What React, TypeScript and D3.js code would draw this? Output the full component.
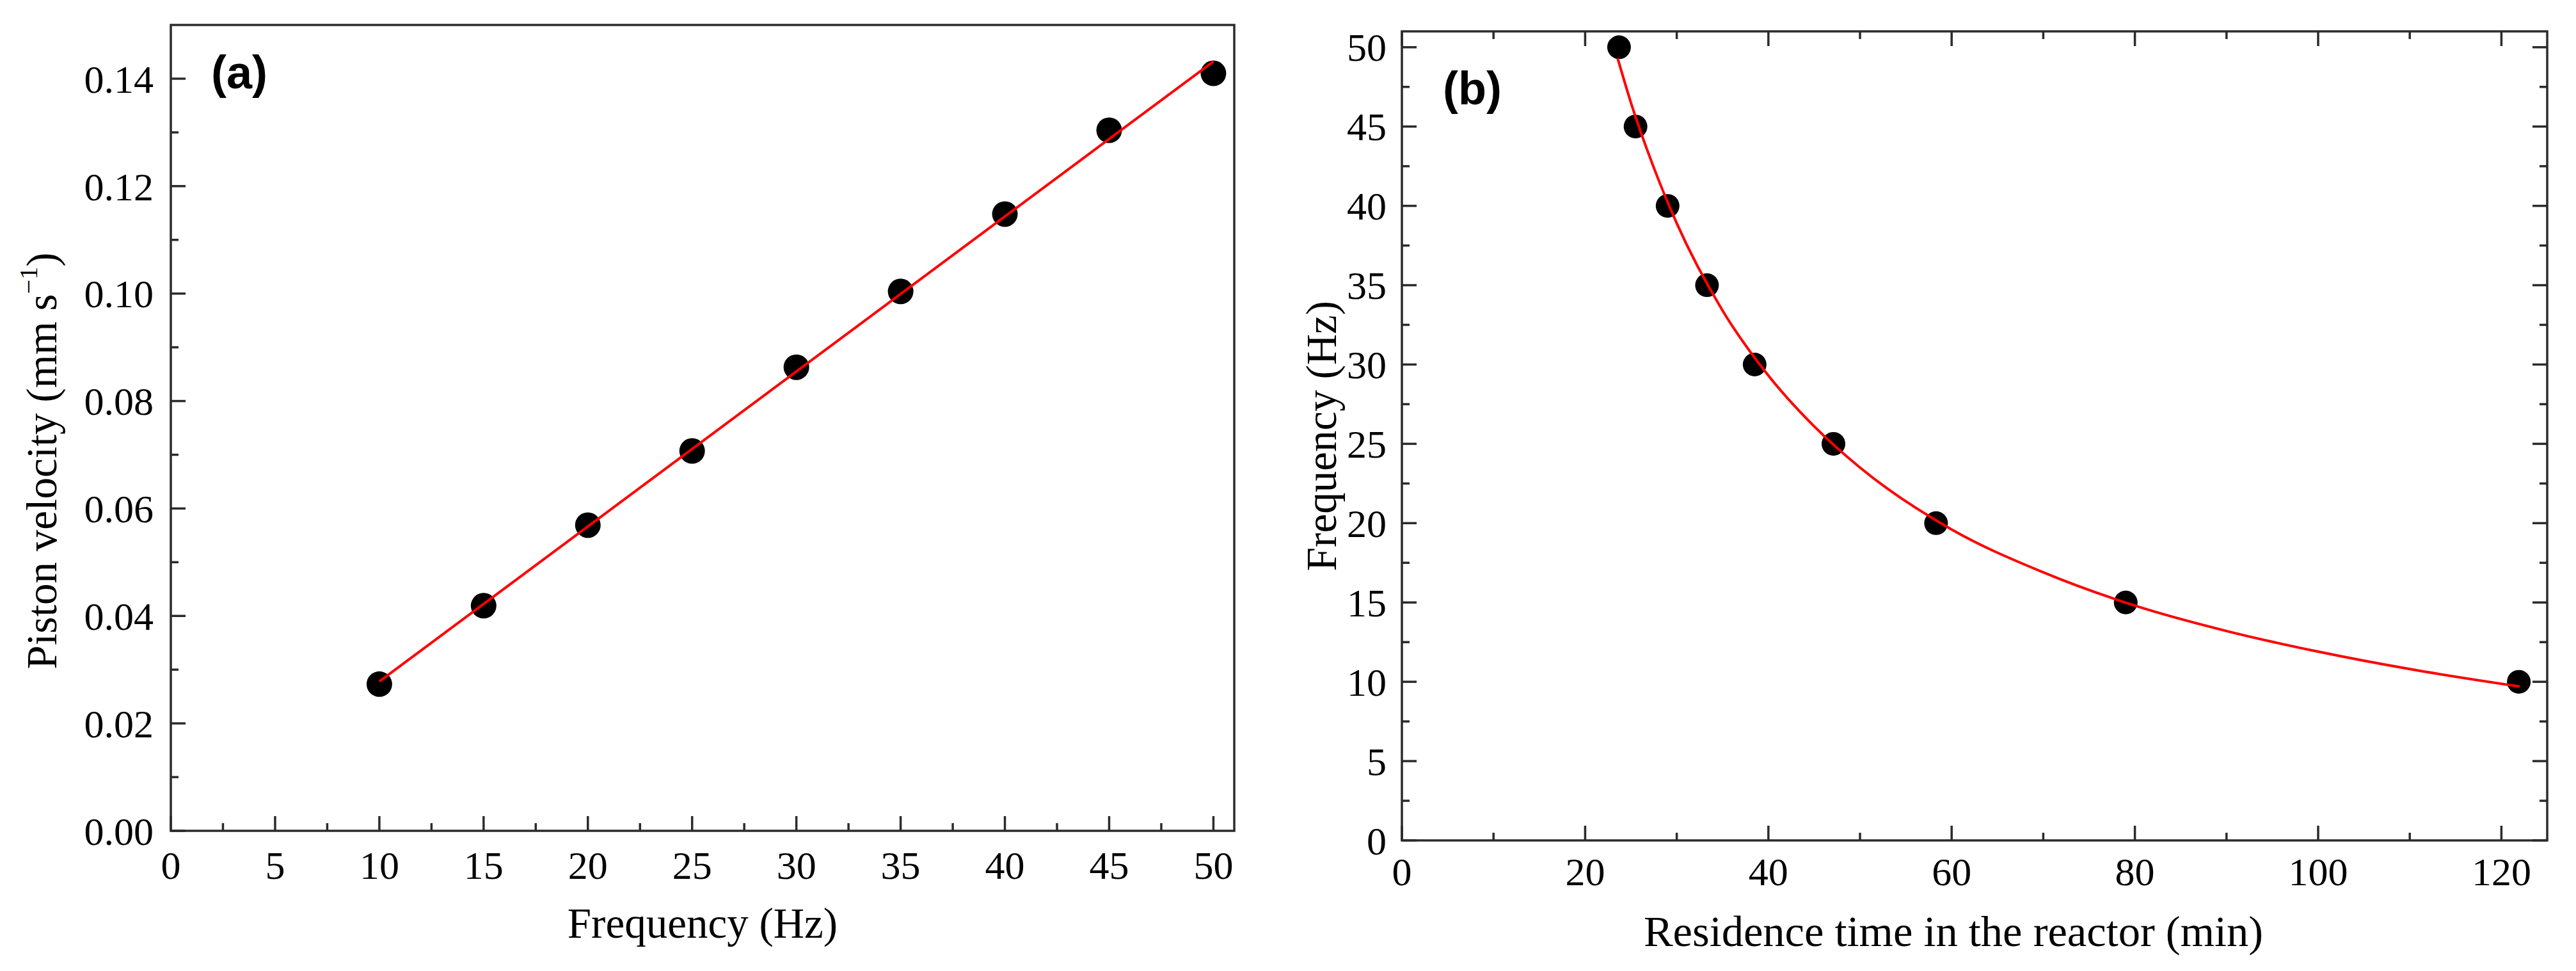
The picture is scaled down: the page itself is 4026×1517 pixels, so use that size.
import React from "react";
import * as d3 from "d3";

// ---------- Panel (a) data ----------
const freqA = [10, 15, 20, 25, 30, 35, 40, 45, 50];
const velocityA = [0.0273, 0.0419, 0.0569, 0.0707, 0.0863, 0.1004, 0.1148, 0.1304, 0.141];
const fitAX = [10, 50];
const fitAY = [0.0278, 0.1432];
const xTicksA = [0, 5, 10, 15, 20, 25, 30, 35, 40, 45, 50];
const yTicksA = [0, 0.02, 0.04, 0.06, 0.08, 0.1, 0.12, 0.14];

// ---------- Panel (b) data ----------
const residenceB = [23.7, 25.5, 29.0, 33.3, 38.5, 47.1, 58.3, 79.0, 121.9];
const freqB = [50, 45, 40, 35, 30, 25, 20, 15, 10];
const fitBX = [23.55, 25, 27.5, 30, 35, 40, 45, 50, 60, 70, 80, 90, 100, 110, 122];
const fitBY = [49.3, 46.5, 42.4, 38.9, 33.4, 29.3, 26.1, 23.5, 19.6, 16.9, 14.8, 13.2, 11.9, 10.8, 9.7];
const xTicksB = [0, 20, 40, 60, 80, 100, 120];
const yTicksB = [0, 5, 10, 15, 20, 25, 30, 35, 40, 45, 50];

const W = 4026;
const H = 1517;
const SERIF = "'Liberation Serif', 'Times New Roman', serif";
const SANS = "'Liberation Sans', Arial, sans-serif";
const AXIS = "#2b2b2b";
const AXW = 3.5;
const MAJ = 23;
const MIN = 12;
const TICKFS = 62;
const TITLEFS = 67;

export default function App() {
  // Panel a scales
  const xA = d3.scaleLinear().domain([0, 51]).range([267, 1929]);
  const yA = d3.scaleLinear().domain([0, 0.15]).range([1298, 39]);
  // Panel b scales
  const xB = d3.scaleLinear().domain([0, 125]).range([2191, 3981]);
  const yB = d3.scaleLinear().domain([0, 51]).range([1313, 49]);

  const minorXA = d3.range(2.5, 51, 5);
  const minorYA = d3.range(0.01, 0.15, 0.02);
  const minorXB = d3.range(10, 125, 20);
  const minorYB = d3.range(2.5, 51, 5);

  const lineA = d3
    .line<number>()
    .x((_, i) => xA(fitAX[i]))
    .y((d) => yA(d));
  const lineB = d3
    .line<number>()
    .x((_, i) => xB(fitBX[i]))
    .y((d) => yB(d))
    .curve(d3.curveMonotoneX);

  const fmtA = d3.format(".2f");

  return (
    <svg
      width={W}
      height={H}
      viewBox={`0 0 ${W} ${H}`}
      style={{ position: "absolute", left: 0, top: 0, background: "#fff" }}
    >
      <rect x={0} y={0} width={W} height={H} fill="#fff" />

      {/* ================= Panel (a) ================= */}
      <g>
        {freqA.map((f, i) => (
          <circle key={"pa" + i} cx={xA(f)} cy={yA(velocityA[i])} r={20} fill="#000" />
        ))}
        <path d={lineA(fitAY) || ""} fill="none" stroke="#ff0000" strokeWidth={4} />

        <rect
          x={xA(0)}
          y={yA(0.15)}
          width={xA(51) - xA(0)}
          height={yA(0) - yA(0.15)}
          fill="none"
          stroke={AXIS}
          strokeWidth={AXW}
        />
        {xTicksA.map((t) => (
          <g key={"xta" + t}>
            <line x1={xA(t)} x2={xA(t)} y1={yA(0)} y2={yA(0) - MAJ} stroke={AXIS} strokeWidth={AXW} />
            <text x={xA(t)} y={1373} textAnchor="middle" fontFamily={SERIF} fontSize={TICKFS} fill="#000">
              {t}
            </text>
          </g>
        ))}
        {minorXA.map((t) => (
          <line key={"mxa" + t} x1={xA(t)} x2={xA(t)} y1={yA(0)} y2={yA(0) - MIN} stroke={AXIS} strokeWidth={AXW} />
        ))}
        {yTicksA.map((t) => (
          <g key={"yta" + t}>
            <line x1={xA(0)} x2={xA(0) + MAJ} y1={yA(t)} y2={yA(t)} stroke={AXIS} strokeWidth={AXW} />
            <text
              x={xA(0) - 27}
              y={yA(t)}
              dy="0.35em"
              textAnchor="end"
              fontFamily={SERIF}
              fontSize={TICKFS}
              fill="#000"
            >
              {fmtA(t)}
            </text>
          </g>
        ))}
        {minorYA.map((t) => (
          <line key={"mya" + t} x1={xA(0)} x2={xA(0) + MIN} y1={yA(t)} y2={yA(t)} stroke={AXIS} strokeWidth={AXW} />
        ))}
        <text
          x={(xA(0) + xA(51)) / 2}
          y={1465}
          textAnchor="middle"
          fontFamily={SERIF}
          fontSize={TITLEFS}
          fill="#000"
        >
          Frequency (Hz)
        </text>
        <text
          transform={`translate(88, 720) rotate(-90)`}
          textAnchor="middle"
          fontFamily={SERIF}
          fontSize={TITLEFS}
          fill="#000"
        >
          Piston velocity (mm s
          <tspan fontSize={40} dy={-30}>
            −1
          </tspan>
          <tspan dy={30}>)</tspan>
        </text>
        <text x={330} y={138} fontFamily={SANS} fontWeight="bold" fontSize={72} fill="#000">
          (a)
        </text>
      </g>

      {/* ================= Panel (b) ================= */}
      <g>
        {residenceB.map((t, i) => (
          <circle key={"pb" + i} cx={xB(t)} cy={yB(freqB[i])} r={18.5} fill="#000" />
        ))}
        <path d={lineB(fitBY) || ""} fill="none" stroke="#ff0000" strokeWidth={4} />

        <rect
          x={xB(0)}
          y={yB(51)}
          width={xB(125) - xB(0)}
          height={yB(0) - yB(51)}
          fill="none"
          stroke={AXIS}
          strokeWidth={AXW}
        />
        {xTicksB.map((t) => (
          <g key={"xtb" + t}>
            <line x1={xB(t)} x2={xB(t)} y1={yB(0)} y2={yB(0) - MAJ} stroke={AXIS} strokeWidth={AXW} />
            <line x1={xB(t)} x2={xB(t)} y1={yB(51)} y2={yB(51) + MAJ} stroke={AXIS} strokeWidth={AXW} />
            <text x={xB(t)} y={1383} textAnchor="middle" fontFamily={SERIF} fontSize={TICKFS} fill="#000">
              {t}
            </text>
          </g>
        ))}
        {minorXB.map((t) => (
          <g key={"mxb" + t}>
            <line x1={xB(t)} x2={xB(t)} y1={yB(0)} y2={yB(0) - MIN} stroke={AXIS} strokeWidth={AXW} />
            <line x1={xB(t)} x2={xB(t)} y1={yB(51)} y2={yB(51) + MIN} stroke={AXIS} strokeWidth={AXW} />
          </g>
        ))}
        {yTicksB.map((t) => (
          <g key={"ytb" + t}>
            <line x1={xB(0)} x2={xB(0) + MAJ} y1={yB(t)} y2={yB(t)} stroke={AXIS} strokeWidth={AXW} />
            <line x1={xB(125)} x2={xB(125) - MAJ} y1={yB(t)} y2={yB(t)} stroke={AXIS} strokeWidth={AXW} />
            <text
              x={xB(0) - 24}
              y={yB(t)}
              dy="0.35em"
              textAnchor="end"
              fontFamily={SERIF}
              fontSize={TICKFS}
              fill="#000"
            >
              {t}
            </text>
          </g>
        ))}
        {minorYB.map((t) => (
          <g key={"myb" + t}>
            <line x1={xB(0)} x2={xB(0) + MIN} y1={yB(t)} y2={yB(t)} stroke={AXIS} strokeWidth={AXW} />
            <line x1={xB(125)} x2={xB(125) - MIN} y1={yB(t)} y2={yB(t)} stroke={AXIS} strokeWidth={AXW} />
          </g>
        ))}
        <text
          x={(xB(0) + xB(125)) / 2 - 33}
          y={1478}
          textAnchor="middle"
          fontFamily={SERIF}
          fontSize={68.5}
          fill="#000"
        >
          Residence time in the reactor (min)
        </text>
        <text
          transform={`translate(2088, ${(yB(0) + yB(51)) / 2}) rotate(-90)`}
          textAnchor="middle"
          fontFamily={SERIF}
          fontSize={TITLEFS}
          fill="#000"
        >
          Frequency (Hz)
        </text>
        <text x={2255} y={163} fontFamily={SANS} fontWeight="bold" fontSize={72} fill="#000">
          (b)
        </text>
      </g>
    </svg>
  );
}
